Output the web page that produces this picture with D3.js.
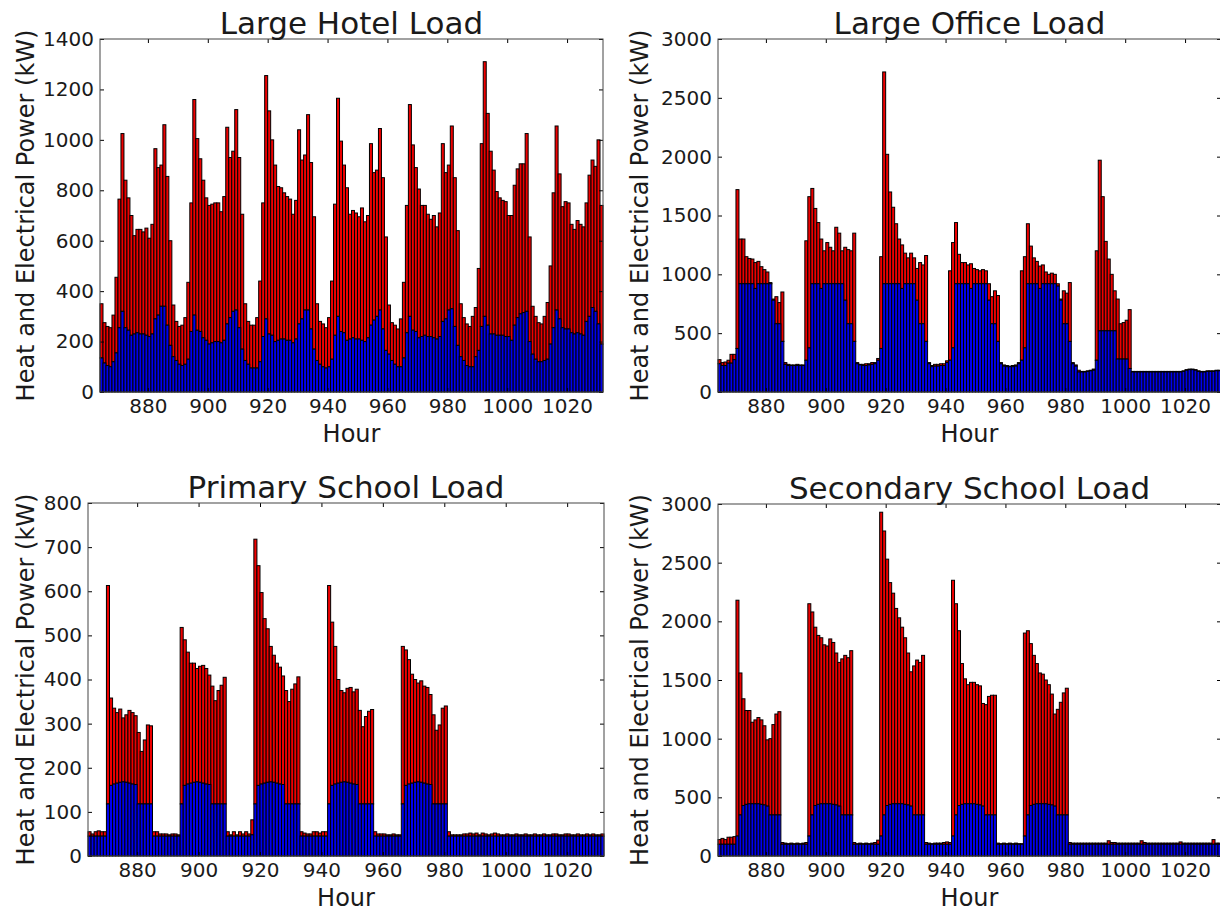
<!DOCTYPE html>
<html>
<head>
<meta charset="utf-8">
<script src="https://cdn.jsdelivr.net/npm/d3@7"></script>
<style>
    body { margin: 0; background: #fff; }
    svg { display: block; font-family: 'DejaVu Sans', sans-serif; }
</style>
</head>
<body>
<svg id="chart" width="1220" height="913"></svg>
<script>
// one bar per hour, 864 .. 1031
const hours = d3.range(864, 1032)
const xTicks = [880, 900, 920, 940, 960, 980, 1000, 1020]

// top of each red bar = heat + electrical, blue = electrical (kW)
const hotelTotal = [
    350,275,260,255,305,455,765,1025,840,770,700,620,645,645,635,650,610,665,965,890,900,1060,855,600,
    345,280,260,265,295,435,750,1160,1005,925,840,770,740,745,750,750,715,775,1050,930,955,1120,930,705,
    350,280,265,265,295,440,750,1255,1115,1000,900,815,810,790,775,765,705,760,1040,920,940,1100,910,695,
    350,280,270,255,295,440,745,1165,995,900,810,705,720,710,695,730,675,700,985,870,880,1045,850,615,
    345,275,265,250,290,435,740,1140,980,890,805,740,740,705,685,700,655,710,985,870,900,1055,850,640,
    350,295,270,260,300,335,490,985,1310,1105,955,880,795,770,760,755,700,700,820,885,905,905,1025,615,
    340,300,275,270,300,355,500,790,1055,865,735,755,750,665,645,680,665,655,750,860,920,895,1000,740
]
const hotelElec = [
    135,115,105,100,120,155,255,320,255,245,225,230,235,230,230,225,220,230,290,305,340,340,265,185,
    140,125,110,105,110,130,240,305,245,240,215,205,190,195,200,200,195,205,270,295,320,325,255,170,
    125,110,95,95,95,120,220,290,230,225,200,205,210,210,205,205,195,210,270,290,325,325,250,170,
    125,110,100,95,100,130,225,300,240,235,205,210,215,210,210,205,200,215,265,285,300,325,250,165,
    150,125,110,100,100,135,235,300,245,240,215,220,225,220,220,215,210,220,280,290,325,330,260,185,
    140,125,105,100,100,140,165,260,300,265,230,230,225,225,225,220,220,205,265,295,310,315,320,200,
    150,130,120,120,125,130,190,255,325,290,255,250,250,235,230,235,230,225,280,300,335,320,270,190
]

const officeTotal = [
    275,250,255,270,320,320,1720,1300,1300,1150,1135,1130,1100,1110,1065,1040,1020,930,790,810,760,850,250,235,
    230,230,235,230,230,1285,1660,1730,1560,1440,1300,1200,1270,1230,1200,1400,1350,1200,1230,1210,1200,1350,250,235,
    235,240,240,250,250,285,1150,2720,2020,1700,1570,1430,1300,1250,1180,1140,1180,1140,1050,1100,1080,1160,250,225,
    235,235,240,240,265,1030,1270,1440,1170,1100,1100,1080,1090,1050,1040,1030,1040,1030,920,810,860,820,250,230,
    225,220,225,230,250,1030,1150,1430,1240,1140,1110,1070,1080,1020,1000,1010,1000,920,790,860,840,930,250,230,
    185,175,175,180,185,195,1200,1970,1660,1280,1130,1000,860,790,580,590,610,700,175,175,175,175,175,175,
    175,175,175,175,175,175,175,175,175,175,175,180,190,195,195,190,180,175,175,180,180,180,185,185
]
const officeElec = [
    240,225,225,245,245,275,370,920,920,920,920,920,880,920,920,920,920,920,780,580,580,430,235,225,
    225,225,225,225,225,270,375,920,920,920,880,920,920,920,920,920,920,920,780,580,580,430,240,230,
    225,225,230,235,240,270,370,920,920,920,920,920,920,880,920,920,920,920,780,580,580,430,240,215,
    220,220,225,225,250,270,375,920,920,920,920,920,880,920,920,920,920,920,780,580,580,430,240,220,
    215,215,215,220,240,270,375,920,920,920,920,880,920,920,920,920,920,900,780,580,580,430,240,220,
    170,170,170,175,180,185,270,520,520,520,520,520,520,280,280,280,280,200,170,170,170,170,170,170,
    170,170,170,170,170,170,170,170,170,170,170,175,185,190,190,185,175,170,170,175,175,175,180,180
]

const primaryTotal = [
    55,50,55,57,55,55,613,358,335,325,333,313,320,330,325,318,280,237,263,297,295,55,55,50,
    50,50,48,50,50,48,518,490,462,437,437,425,430,432,425,410,385,352,375,387,405,55,48,55,
    48,55,50,55,50,82,718,658,597,538,515,475,455,437,428,408,375,350,378,390,406,55,52,50,
    50,55,55,52,55,55,613,530,475,400,375,370,380,382,372,378,330,293,316,328,332,55,50,50,
    50,48,48,50,48,48,475,467,445,412,400,392,397,385,382,366,320,285,297,335,340,55,48,48,
    48,48,50,50,52,50,52,48,52,50,48,50,52,50,48,48,50,48,48,50,48,48,50,48,
    48,50,48,48,50,48,48,50,50,48,48,50,50,48,48,50,48,48,50,48,50,48,48,50
]
const primaryElec = [
    45,45,45,45,45,45,118,160,163,165,167,168,167,165,163,162,118,118,118,118,118,45,45,45,
    45,45,45,45,45,45,118,160,163,165,167,168,167,165,163,162,118,118,118,118,118,45,45,45,
    45,45,45,45,45,48,118,160,163,165,167,168,167,165,163,162,118,118,118,118,118,45,45,45,
    45,45,45,45,45,45,118,160,163,165,167,168,167,165,163,162,118,118,118,118,118,45,45,45,
    45,45,45,45,45,45,118,160,163,165,167,168,167,165,163,162,118,118,118,118,118,45,45,45,
    45,45,45,45,45,45,45,45,45,45,45,45,45,45,45,45,45,45,45,45,45,45,45,45,
    45,45,45,45,45,45,45,45,45,45,45,45,45,45,45,45,45,45,45,45,45,45,45,45
]

const secondaryTotal = [
    140,150,140,160,160,165,2180,1560,1340,1240,1240,1140,1160,1180,1160,1110,990,1000,1120,1210,1230,115,110,105,
    110,105,110,105,110,115,2150,2080,1950,1880,1860,1800,1790,1850,1820,1730,1650,1680,1710,1690,1750,115,105,110,
    105,110,105,110,115,135,2930,2770,2530,2330,2240,2110,2030,1950,1860,1730,1570,1620,1670,1650,1710,115,110,105,
    110,110,110,115,120,115,2350,2150,1920,1640,1510,1460,1480,1480,1460,1450,1300,1290,1360,1370,1370,110,105,110,
    105,110,105,110,105,105,1900,1920,1810,1710,1640,1560,1550,1500,1460,1380,1210,1250,1310,1390,1430,115,110,110,
    110,110,110,110,110,110,110,110,110,110,130,115,115,110,110,110,110,110,110,110,110,130,115,110,
    110,110,110,110,110,110,110,110,110,110,120,110,110,110,110,110,110,110,110,110,110,140,110,110
]
const secondaryElec = [
    100,100,100,100,100,100,170,350,430,440,445,445,445,445,440,435,425,350,350,350,350,100,100,100,
    100,100,100,100,100,100,170,350,430,440,445,445,445,445,440,435,425,350,350,350,350,100,100,100,
    100,100,100,100,100,100,170,350,430,440,445,445,445,445,440,435,425,350,350,350,350,100,100,100,
    100,100,100,100,100,100,170,350,430,440,445,445,445,445,440,435,425,350,350,350,350,100,100,100,
    100,100,100,100,100,100,170,350,430,440,445,445,445,445,440,435,425,350,350,350,350,100,100,100,
    100,100,100,100,100,100,100,100,100,100,100,100,100,100,100,100,100,100,100,100,100,100,100,100,
    100,100,100,100,100,100,100,100,100,100,100,100,100,100,100,100,100,100,100,100,100,100,100,100
]

const hotelTicks = [0, 200, 400, 600, 800, 1000, 1200, 1400]
const officeTicks = [0, 500, 1000, 1500, 2000, 2500, 3000]
const primaryTicks = [0, 100, 200, 300, 400, 500, 600, 700, 800]
const secondaryTicks = [0, 500, 1000, 1500, 2000, 2500, 3000]

const panels = [
    { title: 'Large Hotel Load', total: hotelTotal, elec: hotelElec, yTicks: hotelTicks,
      left: 100, right: 603, top: 39, bottom: 392, labelX: 34 },
    { title: 'Large Office Load', total: officeTotal, elec: officeElec, yTicks: officeTicks,
      left: 718, right: 1221, top: 39, bottom: 392, labelX: 648 },
    { title: 'Primary School Load', total: primaryTotal, elec: primaryElec, yTicks: primaryTicks,
      left: 88, right: 604, top: 503, bottom: 856, labelX: 34 },
    { title: 'Secondary School Load', total: secondaryTotal, elec: secondaryElec, yTicks: secondaryTicks,
      left: 718, right: 1221, top: 504, bottom: 856, labelX: 648 }
]

const svg = d3.select('#chart')

function styleAxis (g, size) {
    g.attr('font-family', "'DejaVu Sans', sans-serif")
        .attr('font-size', size)
    g.select('.domain').remove()
    g.selectAll('.tick line').attr('stroke', '#000')
    g.selectAll('.tick text').attr('fill', '#1a1a1a')
}

function drawPanel (p) {
    const x = d3.scaleLinear().domain([864, 1032]).range([p.left, p.right])
    const y = d3.scaleLinear().domain([0, d3.max(p.yTicks)]).range([p.bottom, p.top])
    const g = svg.append('g')
    const bw = h => x(h + 1) - x(h)

    // heat, stacked on electrical
    g.append('g').selectAll('rect')
        .data(hours)
        .join('rect')
        .attr('x', h => x(h))
        .attr('width', bw)
        .attr('y', (h, i) => y(p.total[i]))
        .attr('height', (h, i) => Math.max(0, y(p.elec[i]) - y(p.total[i])))
        .attr('fill', '#ee0000')
        .attr('stroke', '#000')
        .attr('stroke-width', 1)

    // electrical
    g.append('g').selectAll('rect')
        .data(hours)
        .join('rect')
        .attr('x', h => x(h))
        .attr('width', bw)
        .attr('y', (h, i) => y(p.elec[i]))
        .attr('height', (h, i) => y(0) - y(p.elec[i]))
        .attr('fill', '#0000ee')
        .attr('stroke', '#000')
        .attr('stroke-width', 1)

    // ticks on all four sides, pointing inward
    g.append('g')
        .attr('transform', `translate(0,${p.bottom})`)
        .call(d3.axisBottom(x).tickValues(xTicks).tickSize(-4).tickPadding(7).tickFormat(d3.format('d')))
        .call(styleAxis, 20)
    g.append('g')
        .attr('transform', `translate(0,${p.top})`)
        .call(d3.axisTop(x).tickValues(xTicks).tickSize(-4).tickFormat(''))
        .call(styleAxis, 20)
    g.append('g')
        .attr('transform', `translate(${p.left},0)`)
        .call(d3.axisLeft(y).tickValues(p.yTicks).tickSize(-4).tickPadding(6).tickFormat(d3.format('d')))
        .call(styleAxis, 20)
    g.append('g')
        .attr('transform', `translate(${p.right},0)`)
        .call(d3.axisRight(y).tickValues(p.yTicks).tickSize(-4).tickFormat(''))
        .call(styleAxis, 20)

    g.append('rect')
        .attr('x', p.left)
        .attr('y', p.top)
        .attr('width', p.right - p.left)
        .attr('height', p.bottom - p.top)
        .attr('fill', 'none')
        .attr('stroke', '#444')
        .attr('stroke-width', 1)

    g.append('text')
        .attr('x', (p.left + p.right) / 2)
        .attr('y', p.top - 5)
        .attr('text-anchor', 'middle')
        .attr('font-size', 31)
        .attr('fill', '#1a1a1a')
        .text(p.title)

    g.append('text')
        .attr('x', (p.left + p.right) / 2)
        .attr('y', p.bottom + 50)
        .attr('text-anchor', 'middle')
        .attr('font-size', 24)
        .attr('fill', '#1a1a1a')
        .text('Hour')

    g.append('text')
        .attr('transform', `translate(${p.labelX},${(p.top + p.bottom) / 2}) rotate(-90)`)
        .attr('text-anchor', 'middle')
        .attr('font-size', 24)
        .attr('fill', '#1a1a1a')
        .text('Heat and Electrical Power (kW)')
}

panels.forEach(drawPanel)
</script>
</body>
</html>
